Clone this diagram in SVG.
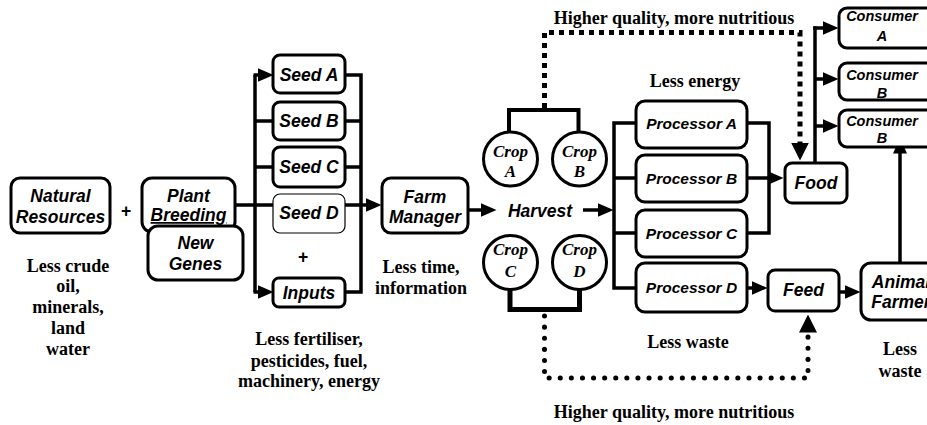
<svg xmlns="http://www.w3.org/2000/svg" width="927" height="425" viewBox="0 0 927 425">
<style>
.box{fill:#fff;stroke:#000;stroke-width:3}
.thin{fill:#fff;stroke:#000;stroke-width:1.2}
.circ{fill:#fff;stroke:#000;stroke-width:3}
.lbl{font-family:"Liberation Sans",Arial,sans-serif;font-weight:bold;font-style:italic;font-size:17.5px;text-anchor:middle;fill:#000}
.sm{font-size:15.5px}
.xs{font-size:14.5px}
.crop{font-family:"Liberation Serif","Times New Roman",serif;font-weight:bold;font-style:italic;font-size:17px;text-anchor:middle;fill:#000}
.note{font-family:"Liberation Serif","Times New Roman",serif;font-weight:bold;font-size:18px;text-anchor:middle;fill:#000}
.ln{fill:none;stroke:#000;stroke-width:3.5}
.arr{marker-end:url(#ah)}
.dash{fill:none;stroke:#000;stroke-width:5;stroke-dasharray:5 5;marker-end:url(#ahb)}
.dots{fill:none;stroke:#000;stroke-width:5;stroke-dasharray:0.1 11;stroke-linecap:round;marker-end:url(#ahb)}
</style>
<defs>
<marker id="ah" markerUnits="userSpaceOnUse" markerWidth="16" markerHeight="14" refX="0.5" refY="7" orient="auto">
<path d="M0,0 L16,7 L0,14 z" fill="#000"/>
</marker>
<marker id="ahb" markerUnits="userSpaceOnUse" markerWidth="18" markerHeight="18" refX="0.5" refY="9" orient="auto">
<path d="M0,0 L18,9 L0,18 z" fill="#000"/>
</marker>
</defs>
<rect width="927" height="425" fill="#fff"/>

<g id="connectors">
<path class="ln" d="M235,205 H255"/>
<path class="ln" d="M255,75 V292"/>
<path class="ln arr" d="M253.5,75 H258"/>
<path class="ln" d="M255,121 H273 M255,167 H273 M255,205 H273"/>
<path class="ln arr" d="M253.5,292 H258"/>
<path class="ln" d="M345,75 H361 V292 H345"/>
<path class="ln" d="M345,121 H361 M345,167 H361 M345,205 H361"/>
<path class="ln arr" d="M359.5,205 H366"/>
<path class="ln arr" d="M468,210 H481"/>
<path class="ln arr" d="M583,210 H598"/>
<path class="ln" d="M636,123 H614 V288 H636"/>
<path class="ln" d="M614,178 H636 M614,233 H636"/>
<path class="ln" d="M747,123 H769 V233 H747"/>
<path class="ln arr" d="M747,178 H768"/>
<path class="ln arr" d="M747,288 H752"/>
<path class="ln arr" d="M839,292 H845"/>
<path class="ln arr" d="M900,263 V153"/>
<path class="ln" d="M815,163 V26.25"/>
<path class="ln arr" d="M813.25,28 H823"/>
<path class="ln arr" d="M815,79 H823"/>
<path class="ln arr" d="M815,126 H823"/>
<path fill="none" stroke="#000" stroke-width="4" d="M509,132 V110 H578.5 V132"/>
<path fill="none" stroke="#000" stroke-width="5" d="M510,289 V309.5 H579.5 V289"/>
<path class="dash" d="M544.5,108 V32.5 H800 V143"/>
<path class="dots" d="M544.5,316 V378 H808 V332"/>
</g>

<g id="natural-resources">
<rect class="box" x="11" y="178" width="99" height="55" rx="9"/>
<text class="lbl" x="60.5" y="202">Natural</text>
<text class="lbl" x="60.5" y="223">Resources</text>
</g>
<g id="plus-1"><text class="lbl" x="126" y="217" style="font-style:normal">+</text></g>
<g id="plant-breeding">
<rect class="box" x="142" y="178" width="93" height="54" rx="10"/>
<text class="lbl" x="188.5" y="202">Plant</text>
<text class="lbl" x="188.5" y="221" text-decoration="underline">Breeding</text>
</g>
<g id="new-genes">
<rect class="box" x="148" y="226" width="95" height="54" rx="10"/>
<text class="lbl" x="195.5" y="249">New</text>
<text class="lbl" x="195.5" y="270">Genes</text>
</g>
<g id="less-crude">
<text class="note" x="68" y="272">Less crude</text>
<text class="note" x="68" y="292">oil,</text>
<text class="note" x="68" y="313">minerals,</text>
<text class="note" x="68" y="334">land</text>
<text class="note" x="68" y="355">water</text>
</g>

<g id="seed-a"><rect class="box" x="273" y="55" width="72" height="38" rx="7"/><text class="lbl" x="309" y="81">Seed A</text></g>
<g id="seed-b"><rect class="box" x="273" y="102" width="72" height="38" rx="7"/><text class="lbl" x="309" y="127">Seed B</text></g>
<g id="seed-c"><rect class="box" x="273" y="147" width="72" height="40" rx="7"/><text class="lbl" x="309" y="173">Seed C</text></g>
<g id="seed-d"><rect class="thin" x="273" y="194" width="72" height="39" rx="7"/><text class="lbl" x="309" y="219">Seed D</text></g>
<g id="plus-2"><text class="lbl" x="303" y="263" style="font-style:normal">+</text></g>
<g id="inputs"><rect class="box" x="273" y="278" width="72" height="29" rx="6"/><text class="lbl" x="309" y="299">Inputs</text></g>
<g id="less-fertiliser">
<text class="note" x="309" y="345">Less fertiliser,</text>
<text class="note" x="309" y="367">pesticides, fuel,</text>
<text class="note" x="309" y="387">machinery, energy</text>
</g>

<g id="farm-manager">
<rect class="box" x="382" y="178" width="86" height="55" rx="9"/>
<text class="lbl" x="425" y="203">Farm</text>
<text class="lbl" x="425" y="223">Manager</text>
</g>
<g id="less-time">
<text class="note" x="421" y="273">Less time,</text>
<text class="note" x="421" y="294">information</text>
</g>
<g id="harvest"><text class="lbl" x="540" y="217">Harvest</text></g>

<g id="crop-a"><circle class="circ" cx="510.5" cy="159" r="27"/><text class="crop" x="510.5" y="157">Crop</text><text class="crop" x="510.5" y="177">A</text></g>
<g id="crop-b"><circle class="circ" cx="579.5" cy="159" r="27"/><text class="crop" x="579.5" y="157">Crop</text><text class="crop" x="579.5" y="177">B</text></g>
<g id="crop-c"><circle class="circ" cx="510.5" cy="262.5" r="27"/><text class="crop" x="510.5" y="255">Crop</text><text class="crop" x="510.5" y="277">C</text></g>
<g id="crop-d"><circle class="circ" cx="579.5" cy="262.5" r="27"/><text class="crop" x="579.5" y="255">Crop</text><text class="crop" x="579.5" y="277">D</text></g>

<g id="label-top"><text class="note" x="674" y="24">Higher quality, more nutritious</text></g>
<g id="label-energy"><text class="note" x="695" y="87">Less energy</text></g>

<g id="processor-a"><rect class="box" x="636" y="101" width="111" height="47" rx="9"/><text class="lbl sm" x="691.5" y="129">Processor A</text></g>
<g id="processor-b"><rect class="box" x="636" y="155" width="111" height="47" rx="9"/><text class="lbl sm" x="691.5" y="184">Processor B</text></g>
<g id="processor-c"><rect class="box" x="636" y="210" width="111" height="47" rx="9"/><text class="lbl sm" x="691.5" y="239">Processor C</text></g>
<g id="processor-d"><rect class="box" x="636" y="263" width="111" height="49" rx="9"/><text class="lbl sm" x="691.5" y="293">Processor D</text></g>

<g id="label-waste"><text class="note" x="688" y="348">Less waste</text></g>
<g id="label-bottom"><text class="note" x="674" y="418">Higher quality, more nutritious</text></g>

<g id="food"><rect class="box" x="785" y="163" width="62" height="40" rx="7"/><text class="lbl" x="816" y="189">Food</text></g>
<g id="feed"><rect class="box" x="768" y="270" width="71" height="41" rx="7"/><text class="lbl" x="803.5" y="296">Feed</text></g>

<g id="consumer-a"><rect class="box" x="839" y="8" width="100" height="40" rx="8"/><text class="lbl xs" x="882" y="21">Consumer</text><text class="lbl xs" x="882" y="41">A</text></g>
<g id="consumer-b"><rect class="box" x="839" y="63" width="100" height="37" rx="8"/><text class="lbl xs" x="882" y="80">Consumer</text><text class="lbl xs" x="882" y="98">B</text></g>
<g id="consumer-b2"><rect class="box" x="839" y="110" width="100" height="37" rx="8"/><text class="lbl xs" x="882" y="126">Consumer</text><text class="lbl xs" x="882" y="143">B</text></g>

<g id="animal-farmer"><rect class="box" x="861" y="263" width="80" height="57" rx="10"/><text class="lbl" x="901" y="288">Animal</text><text class="lbl" x="901" y="308">Farmer</text></g>
<g id="label-less-waste-right"><text class="note" x="900" y="355">Less</text><text class="note" x="900" y="377">waste</text></g>
</svg>
